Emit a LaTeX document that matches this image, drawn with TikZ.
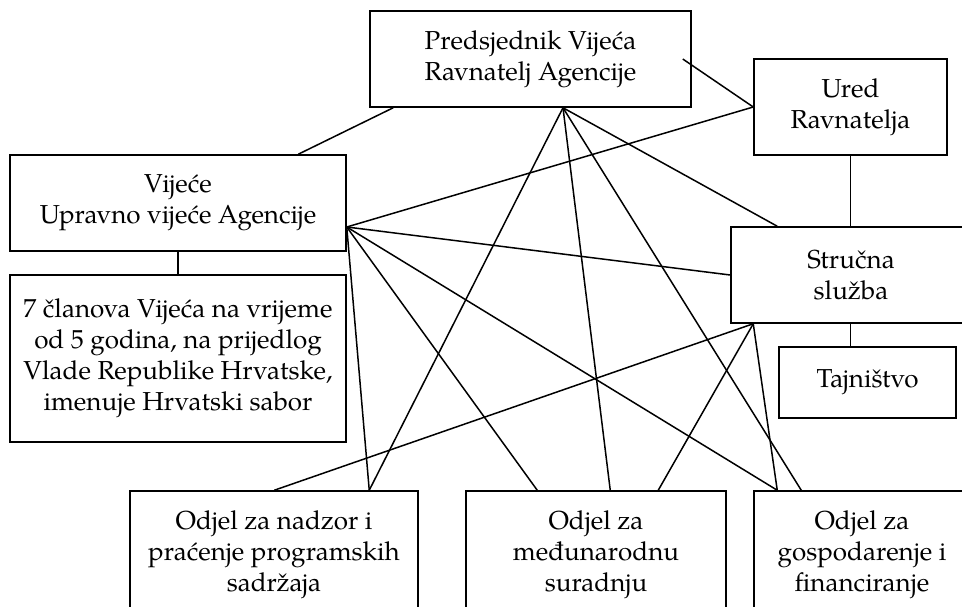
\documentclass[tikz,border=0pt]{standalone}
\usepackage{fontspec}
\setmainfont{texgyrepagella-regular.otf}
\begin{document}
\begin{tikzpicture}[x=1pt,y=-1pt,
  box/.style={draw, line width=1.5pt, align=center, inner sep=0pt, font=\fontsize{26}{31}\selectfont},
  con/.style={line width=1.5pt}]
\useasboundingbox (0,0) rectangle (962,607);
\clip (0,0) rectangle (962,607);
% boxes
\node[box, minimum width=321pt, minimum height=96pt] (top) at (530.5,59) {Predsjednik Vijeća\\Ravnatelj Agencije};
\node[box, minimum width=193pt, minimum height=96pt] (ured) at (850.5,107) {Ured\\Ravnatelja};
\node[box, minimum width=240pt, minimum height=96pt] (struc) at (851,275) {Stručna\\služba};
\node[box, minimum width=177pt, minimum height=71pt] (taj) at (867.5,382.5) {Tajništvo};
\node[box, minimum width=336pt, minimum height=96pt] (vij) at (178,203) {Vijeće\\Upravno vijeće Agencije};
\node[box, minimum width=336pt, minimum height=167pt] (mem) at (178,358.5) {7 članova Vijeća na vrijeme\\od 5 godina, na prijedlog\\Vlade Republike Hrvatske,\\imenuje Hrvatski sabor};
\node[box, minimum width=288pt, minimum height=128pt] (o1) at (274,555) {Odjel za nadzor i\\praćenje programskih\\sadržaja};
\node[box, minimum width=260pt, minimum height=128pt] (o2) at (596,555) {Odjel za\\međunarodnu\\suradnju};
\node[box, minimum width=216pt, minimum height=128pt] (o3) at (862,555) {Odjel za\\gospodarenje i\\financiranje};
% connection points
\coordinate (vhub) at ([yshift=-24pt]vij.east);
\coordinate (thub) at ([xshift=32.5pt]top.south);
\coordinate (shub) at ([xshift=23pt]struc.south west);
\coordinate (tv) at ([xshift=24pt]top.south west);
\coordinate (vt) at ([xshift=289pt]vij.north west);
\coordinate (tu) at ([xshift=-9pt]top.east);
\coordinate (sn) at ([xshift=47pt]struc.north west);
\coordinate (o1a) at ([xshift=145pt]o1.north west);
\coordinate (o1b) at ([xshift=240pt]o1.north west);
\coordinate (o2a) at ([xshift=72pt]o2.north west);
\coordinate (o2b) at ([xshift=145pt]o2.north west);
\coordinate (o2c) at ([xshift=193pt]o2.north west);
\coordinate (o3a) at ([xshift=24pt]o3.north west);
\coordinate (o3b) at ([xshift=48pt]o3.north west);
% connectors
\draw[con] (tv) -- (vt);
\draw[con] (tu) -- (ured.west);
\draw[con] (vhub) -- (ured.west);
\draw[con] (ured.south) -- (struc.north -| ured.south);
\draw[con] (struc.south -| ured.south) -- (taj.north -| ured.south);
\draw[con] (vij.south) -- (mem.north);
\draw[con] (vhub) -- (struc.west);
\draw[con] (vhub) -- (o1b);
\draw[con] (vhub) -- (o2a);
\draw[con] (vhub) -- (o3a);
\draw[con] (thub) -- (o1b);
\draw[con] (thub) -- (o2b);
\draw[con] (thub) -- (o3b);
\draw[con] (thub) -- (sn);
\draw[con] (shub) -- (o1a);
\draw[con] (shub) -- (o2c);
\draw[con] (shub) -- (o3a);
\end{tikzpicture}
\end{document}
